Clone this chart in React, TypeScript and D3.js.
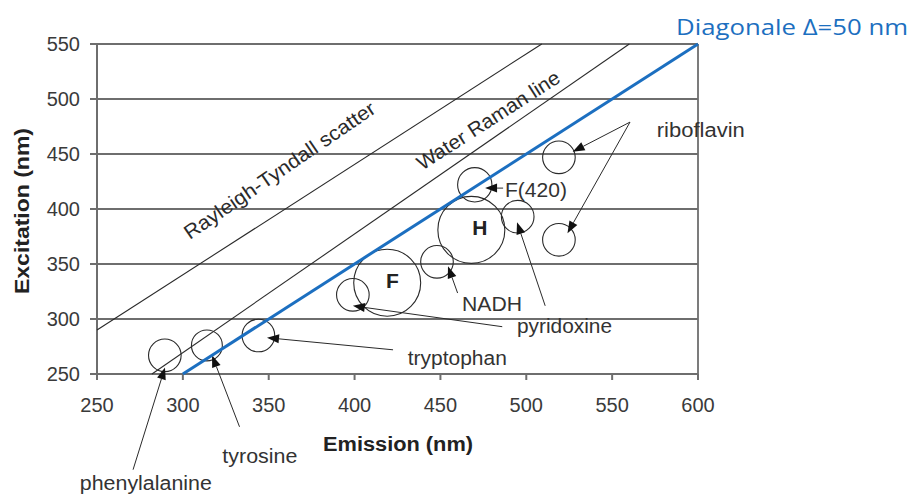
import React from "react";
import * as d3 from "d3";

const xTicks = [250, 300, 350, 400, 450, 500, 550, 600];
const yTicks = [250, 300, 350, 400, 450, 500, 550];

// straight reference lines: [emission, excitation] endpoints
const rayleighLine = [[250, 290], [509, 550]];
const ramanLine = [[282, 250], [560, 550]];
const diagonalLine = [[300, 250], [600, 550]];

// fluorophore spots: emission, excitation, spread (nm of emission)
const spotEm = [289.5, 314, 344, 399, 419, 448, 468, 470, 495, 519, 519];
const spotEx = [267, 276, 285, 322, 333, 352, 381, 422, 393, 447, 372];
const spotSpread = [9.5, 9, 9.5, 9.5, 19.5, 9.5, 19.5, 10, 9.5, 9.5, 9.5];

const bigLabels = ["F", "H"];
const bigLabelEm = [422, 473];
const bigLabelEx = [335, 383.5];

// annotation labels
const labelText = ["riboflavin", "F(420)", "NADH", "pyridoxine", "tryptophan", "tyrosine", "phenylalanine"];
const labelEm = [576, 487.6, 462.6, 494.6, 431, 323, 240];
const labelEx = [465.5, 411, 307, 287, 258, 169, 144.5];
const labelLen = [88, 62, 60, 95, 99, 75, 132];

// arrows: [fromEm, fromEx, toEm, toEx]
const arrows = [
  [560.4, 479, 527, 452],
  [560.4, 479, 524, 378],
  [486.5, 419, 476, 419],
  [460, 323.6, 454.4, 348],
  [486, 293, 399, 312],
  [511, 312, 494.6, 388],
  [422.4, 272, 349, 283],
  [333, 202, 317, 267],
  [271, 163, 289.6, 256],
];

const W = 920;
const H = 496;

export default function App() {
  const x = d3.scaleLinear().domain([250, 600]).range([97, 698]);
  const y = d3.scaleLinear().domain([250, 550]).range([374, 44]);
  const pxPerNm = (x(600) - x(250)) / 350;
  const font = "'Liberation Sans', Arial, sans-serif";
  const ink = "#2a2a2a";
  const grid = "#6e6e6e";
  const blue = "#1c6fc0";

  const line = d3.line<number[]>().x((d) => x(d[0])).y((d) => y(d[1]));

  const head = (a: number[]) => {
    const x1 = x(a[0]), y1 = y(a[1]), x2 = x(a[2]), y2 = y(a[3]);
    const ang = Math.atan2(y2 - y1, x2 - x1);
    const L = 12, Wd = 4.5;
    const bx = x2 - L * Math.cos(ang), by = y2 - L * Math.sin(ang);
    const px = -Math.sin(ang) * Wd, py = Math.cos(ang) * Wd;
    return {
      shaft: `M${x1},${y1}L${bx},${by}`,
      tri: `M${x2},${y2}L${bx + px},${by + py}L${bx - px},${by - py}Z`,
    };
  };

  return (
    <svg width={W} height={H} style={{ display: "block", position: "absolute", left: 0, top: 0, background: "#fff" }}>
      <rect width={W} height={H} fill="#fff" />
      {/* gridlines */}
      {yTicks.map((t) => (
        <line key={"g" + t} x1={x(250)} x2={x(600)} y1={y(t)} y2={y(t)} stroke={grid} strokeWidth={1.8} />
      ))}
      <line x1={x(600)} x2={x(600)} y1={y(550)} y2={y(250)} stroke={grid} strokeWidth={1.8} />
      <line x1={x(250)} x2={x(250)} y1={y(550)} y2={y(250)} stroke={grid} strokeWidth={2} />
      <line x1={x(250)} x2={x(600)} y1={y(250)} y2={y(250)} stroke={grid} strokeWidth={2} />
      {/* ticks */}
      {yTicks.map((t) => (
        <g key={"yt" + t}>
          <line x1={x(250) - 7} x2={x(250)} y1={y(t)} y2={y(t)} stroke={grid} strokeWidth={2} />
          <text x={x(250) - 17} y={y(t)} dy="0.36em" textAnchor="end" fontFamily={font} fontSize={20} fill="#3a3a3a">
            {t}
          </text>
        </g>
      ))}
      {xTicks.map((t) => (
        <g key={"xt" + t}>
          <line x1={x(t)} x2={x(t)} y1={y(250)} y2={y(250) + 6} stroke={grid} strokeWidth={2} />
          <text x={x(t)} y={y(250) + 38} textAnchor="middle" fontFamily={font} fontSize={20} fill="#3a3a3a">
            {t}
          </text>
        </g>
      ))}
      {/* axis titles */}
      <text x={398} y={451} textAnchor="middle" fontFamily={font} fontWeight="bold" fontSize={20} fill="#222" textLength={150} lengthAdjust="spacingAndGlyphs">
        Emission (nm)
      </text>
      <text
        transform={`translate(29,${211}) rotate(-90)`}
        textAnchor="middle"
        fontFamily={font}
        fontWeight="bold"
        fontSize={20}
        fill="#222"
        textLength={166}
        lengthAdjust="spacingAndGlyphs"
      >
        Excitation (nm)
      </text>
      {/* reference lines */}
      <path d={line(rayleighLine as number[][]) || ""} stroke={ink} strokeWidth={1.1} fill="none" />
      <path d={line(ramanLine as number[][]) || ""} stroke={ink} strokeWidth={1.1} fill="none" />
      <text
        transform={`translate(${283.5},${176}) rotate(-34.4)`}
        textAnchor="middle"
        fontFamily={font}
        fontSize={20}
        fill={ink}
        textLength={227}
        lengthAdjust="spacingAndGlyphs"
      >
        Rayleigh-Tyndall scatter
      </text>
      <text
        transform={`translate(${492},${126}) rotate(-32.7)`}
        textAnchor="middle"
        fontFamily={font}
        fontSize={20}
        fill={ink}
        textLength={166}
        lengthAdjust="spacingAndGlyphs"
      >
        Water Raman line
      </text>
      {/* spots */}
      {spotEm.map((em, i) => (
        <circle key={"c" + i} cx={x(em)} cy={y(spotEx[i])} r={spotSpread[i] * pxPerNm} fill="none" stroke={ink} strokeWidth={1.1} />
      ))}
      {bigLabels.map((t, i) => (
        <text key={t} x={x(bigLabelEm[i])} y={y(bigLabelEx[i])} dy="0.36em" textAnchor="middle" fontFamily={font} fontWeight="bold" fontSize={21} fill="#222">
          {t}
        </text>
      ))}
      {/* arrows */}
      {arrows.map((a, i) => {
        const h = head(a);
        return (
          <g key={"a" + i}>
            <path d={h.shaft} stroke={ink} strokeWidth={1} fill="none" />
            <path d={h.tri} fill="#111" />
          </g>
        );
      })}
      {labelText.map((t, i) => (
        <text key={t} x={x(labelEm[i])} y={y(labelEx[i])} fontFamily={font} fontSize={20} fill="#333" textLength={labelLen[i]} lengthAdjust="spacingAndGlyphs">
          {t}
        </text>
      ))}
      {/* blue diagonal */}
      <path d={line(diagonalLine as number[][]) || ""} stroke={blue} strokeWidth={3} fill="none" />
      <text x={676} y={35} fontFamily="'Open Sans', 'Noto Sans', sans-serif" fontSize={22} fill={blue} textLength={232} lengthAdjust="spacingAndGlyphs">
        Diagonale Δ=50 nm
      </text>
    </svg>
  );
}
